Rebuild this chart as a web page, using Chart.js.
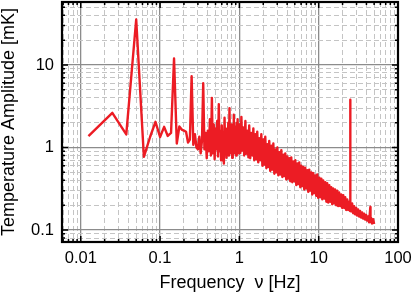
<!DOCTYPE html>
<html>
<head>
<meta charset="utf-8">
<script src="https://cdn.jsdelivr.net/npm/chart.js@4.4.0/dist/chart.umd.min.js"></script>
<style>
  html, body { margin: 0; padding: 0; background: #fff; }
  #wrap { width: 413px; height: 295px; }
</style>
</head>
<body>
<div id="wrap"><canvas id="chart" width="413" height="295"></canvas></div>
<script>
// spectrum: drive harmonics at low f, noise band above
const lowFreq = [0.0125, 0.025, 0.0375, 0.05, 0.0625, 0.075, 0.0875, 0.1, 0.1125, 0.125, 0.1375, 0.15,
  0.1625, 0.175, 0.1875, 0.2, 0.2125, 0.225, 0.2375, 0.25, 0.2625, 0.275, 0.2875];
const lowAmp = [1.37, 2.63, 1.44, 35.6, 0.77, 1.35, 2.05, 1.34, 1.78, 1.38, 1.5, 12.0,
  1.12, 1.8, 1.65, 1.6, 1.55, 1.15, 1.25, 7.3, 1.08, 1.45, 1.0];

const midFreq = [0.3, 0.3125, 0.325, 0.3375, 0.35, 0.3625, 0.375, 0.3875, 0.4, 0.4125, 0.425, 0.4375,
  0.45, 0.4625, 0.475, 0.4875, 0.5, 0.5125, 0.525, 0.5375, 0.55, 0.5625, 0.575, 0.5875, 0.6, 0.6125,
  0.625, 0.6375, 0.65, 0.6625, 0.675, 0.6875, 0.7, 0.7125, 0.725, 0.7375, 0.75, 0.7625, 0.775, 0.7875,
  0.8, 0.8125, 0.825, 0.8375, 0.85, 0.8625, 0.875, 0.8875, 0.9, 0.9125, 0.925, 0.9375, 0.95, 0.9625,
  0.975, 0.9875];
const midAmp = [0.95, 1.35, 0.85, 1.2, 6.0, 0.95, 1.5, 0.74, 1.6, 0.9, 2.2, 0.8,
  4.0, 0.85, 1.9, 0.72, 1.7, 0.95, 2.1, 0.78, 3.35, 0.9, 1.6, 0.7, 1.85, 0.82,
  1.45, 0.64, 2.3, 0.9, 1.7, 0.75, 1.5, 0.95, 2.0, 0.8, 3.0, 0.85, 1.7, 0.9,
  1.9, 0.75, 1.6, 0.95, 2.5, 0.85, 1.8, 0.92, 1.5, 0.8, 2.0, 0.9, 2.2, 0.85,
  1.7, 0.95];

const highFreq = [1.00, 1.03, 1.06, 1.09, 1.12, 1.15, 1.19, 1.22, 1.26, 1.30, 1.33, 1.37, 1.41, 1.46,
  1.50, 1.54, 1.59, 1.64, 1.68, 1.73, 1.78, 1.84, 1.89, 1.95, 2.00, 2.06, 2.12, 2.19, 2.25, 2.32,
  2.38, 2.45, 2.53, 2.60, 2.68, 2.76, 2.84, 2.92, 3.01, 3.10, 3.19, 3.28, 3.38, 3.48, 3.58, 3.68,
  3.79, 3.90, 4.02, 4.14, 4.26, 4.38, 4.51, 4.65, 4.78, 4.92, 5.07, 5.22, 5.37, 5.53, 5.69, 5.86,
  6.03, 6.21, 6.39, 6.58, 6.77, 6.97, 7.18, 7.39, 7.60, 7.83, 8.06, 8.29, 8.54, 8.79, 9.04, 9.31,
  9.58, 9.86, 10.2, 10.5, 10.8, 11.1, 11.4, 11.8, 12.1, 12.5, 12.8, 13.2, 13.6, 14.0, 14.4, 14.8,
  15.2, 15.7, 16.1, 16.6, 17.1, 17.6, 18.1, 18.7, 19.2, 19.8, 20.4, 21.0, 21.6, 22.2, 22.9, 23.5,
  24.2, 24.9, 25.0, 25.1, 25.7, 26.4, 27.2, 28.0, 28.8, 29.7, 30.5, 31.4, 32.4, 33.3, 34.3, 35.3,
  36.3, 37.4, 38.5, 39.6, 40.8, 42.0, 43.2, 44.8, 45.0, 45.8, 47.1, 48.5, 50.0];
const highAmp = [1.90, 0.86, 2.35, 0.92, 1.75, 0.80, 2.10, 0.84, 1.60, 0.76, 1.85, 0.74, 1.50, 0.80,
  1.70, 0.70, 1.45, 0.72, 1.55, 0.66, 1.30, 0.70, 1.45, 0.60, 1.25, 0.62, 1.35, 0.56, 1.10, 0.58,
  1.20, 0.52, 1.05, 0.54, 1.12, 0.48, 0.95, 0.50, 1.00, 0.46, 0.88, 0.47, 0.93, 0.44, 0.82, 0.45,
  0.85, 0.41, 0.78, 0.42, 0.74, 0.39, 0.76, 0.38, 0.68, 0.39, 0.70, 0.35, 0.64, 0.36, 0.66, 0.33,
  0.60, 0.34, 0.58, 0.31, 0.57, 0.32, 0.53, 0.29, 0.54, 0.30, 0.50, 0.27, 0.49, 0.28, 0.46, 0.26,
  0.47, 0.245, 0.43, 0.25, 0.42, 0.235, 0.40, 0.24, 0.38, 0.22, 0.37, 0.215, 0.35, 0.22, 0.33, 0.205,
  0.32, 0.21, 0.31, 0.20, 0.30, 0.195, 0.285, 0.195, 0.27, 0.185, 0.265, 0.185, 0.25, 0.175, 0.235, 0.175,
  0.22, 0.17, 3.8, 0.20, 0.168, 0.21, 0.16, 0.195, 0.155, 0.185, 0.15, 0.178, 0.146, 0.17, 0.142, 0.163,
  0.138, 0.158, 0.134, 0.152, 0.13, 0.146, 0.124, 0.19, 0.125, 0.14, 0.12, 0.135, 0.118];

const xMajor = [0.01, 0.1, 1, 10, 100];
const yMajor = [0.1, 1, 10];
const minorSteps = [2, 3, 4, 5, 6, 7, 8, 9];

const freq = lowFreq.concat(midFreq, highFreq);
const amp = lowAmp.concat(midAmp, highAmp);
const points = freq.map((f, i) => ({ x: f, y: amp[i] }));

function isMajor(v, list) {
  return list.some(t => Math.abs(Math.log10(v / t)) < 1e-6);
}

function decadeTicks(scale) {
  const out = [];
  const e0 = Math.floor(Math.log10(scale.min));
  const e1 = Math.ceil(Math.log10(scale.max));
  for (let e = e0; e <= e1; e++) {
    [1].concat(minorSteps).forEach(m => {
      const v = m * Math.pow(10, e);
      if (v >= scale.min * 0.9999 && v <= scale.max * 1.0001) out.push({ value: v });
    });
  }
  scale.ticks = out;
}

const font = "'Liberation Sans', Arial, Helvetica, sans-serif";

function gridFor(major) {
  return {
    drawTicks: false,
    color: ctx => isMajor(ctx.tick.value, major) ? '#8c8c8c' : '#c4c4c4',
    lineWidth: ctx => isMajor(ctx.tick.value, major) ? 1.3 : 1
  };
}
function borderFor(major) {
  return {
    display: false,
    dash: ctx => (ctx.tick && isMajor(ctx.tick.value, major)) ? [] : [5, 3]
  };
}

// black box with inward ticks on all four sides
const frame = {
  id: 'frame',
  afterDatasetsDraw(chart) {
    const { ctx, chartArea: a, scales: { x, y } } = chart;
    ctx.save();
    ctx.strokeStyle = '#000';
    ctx.lineWidth = 1.5;
    ctx.beginPath();
    x.ticks.forEach(t => {
      const px = x.getPixelForValue(t.value);
      const len = isMajor(t.value, xMajor) ? 6 : 3;
      ctx.moveTo(px, a.bottom); ctx.lineTo(px, a.bottom - len);
      ctx.moveTo(px, a.top); ctx.lineTo(px, a.top + len);
    });
    y.ticks.forEach(t => {
      const py = y.getPixelForValue(t.value);
      const len = isMajor(t.value, yMajor) ? 6 : 3;
      ctx.moveTo(a.left, py); ctx.lineTo(a.left + len, py);
      ctx.moveTo(a.right, py); ctx.lineTo(a.right - len, py);
    });
    ctx.stroke();
    ctx.lineWidth = 2.2;
    ctx.strokeRect(a.left, a.top, a.right - a.left, a.bottom - a.top);
    ctx.restore();
  }
};

new Chart(document.getElementById('chart'), {
  type: 'line',
  data: {
    datasets: [{
      data: points,
      borderColor: '#ec1c24',
      borderWidth: 2.4,
      borderJoinStyle: 'round',
      pointRadius: 0,
      tension: 0,
      fill: false
    }]
  },
  options: {
    responsive: false,
    animation: false,
    layout: { padding: { left: 0, right: 15, top: 2, bottom: 0 } },
    plugins: { legend: { display: false }, tooltip: { enabled: false } },
    scales: {
      x: {
        type: 'logarithmic',
        min: 0.0058,
        max: 100,
        afterBuildTicks: decadeTicks,
        afterFit: s => { s.height = 53; s.paddingLeft = 0; s.paddingRight = 0; },
        grid: gridFor(xMajor),
        border: borderFor(xMajor),
        ticks: {
          autoSkip: false,
          maxRotation: 0,
          padding: 7,
          color: '#000',
          font: { family: font, size: 16.5 },
          callback: v => isMajor(v, xMajor) ? String(v) : ''
        },
        title: {
          display: true,
          text: 'Frequency  ν [Hz]',
          color: '#000',
          font: { family: font, size: 18, lineHeight: 1 },
          padding: { top: 0, bottom: 3 }
        }
      },
      y: {
        type: 'logarithmic',
        min: 0.0716,
        max: 58,
        afterBuildTicks: decadeTicks,
        afterFit: s => { s.width = 62; s.paddingTop = 0; s.paddingBottom = 0; },
        grid: gridFor(yMajor),
        border: borderFor(yMajor),
        ticks: {
          autoSkip: false,
          padding: 8,
          color: '#000',
          font: { family: font, size: 16.5 },
          callback: v => isMajor(v, yMajor) ? String(v) : ''
        },
        title: {
          display: true,
          text: 'Temperature Amplitude [mK]',
          color: '#000',
          font: { family: font, size: 18, lineHeight: 1 },
          padding: { top: 0, bottom: 0 }
        }
      }
    }
  },
  plugins: [frame]
});
</script>
</body>
</html>
